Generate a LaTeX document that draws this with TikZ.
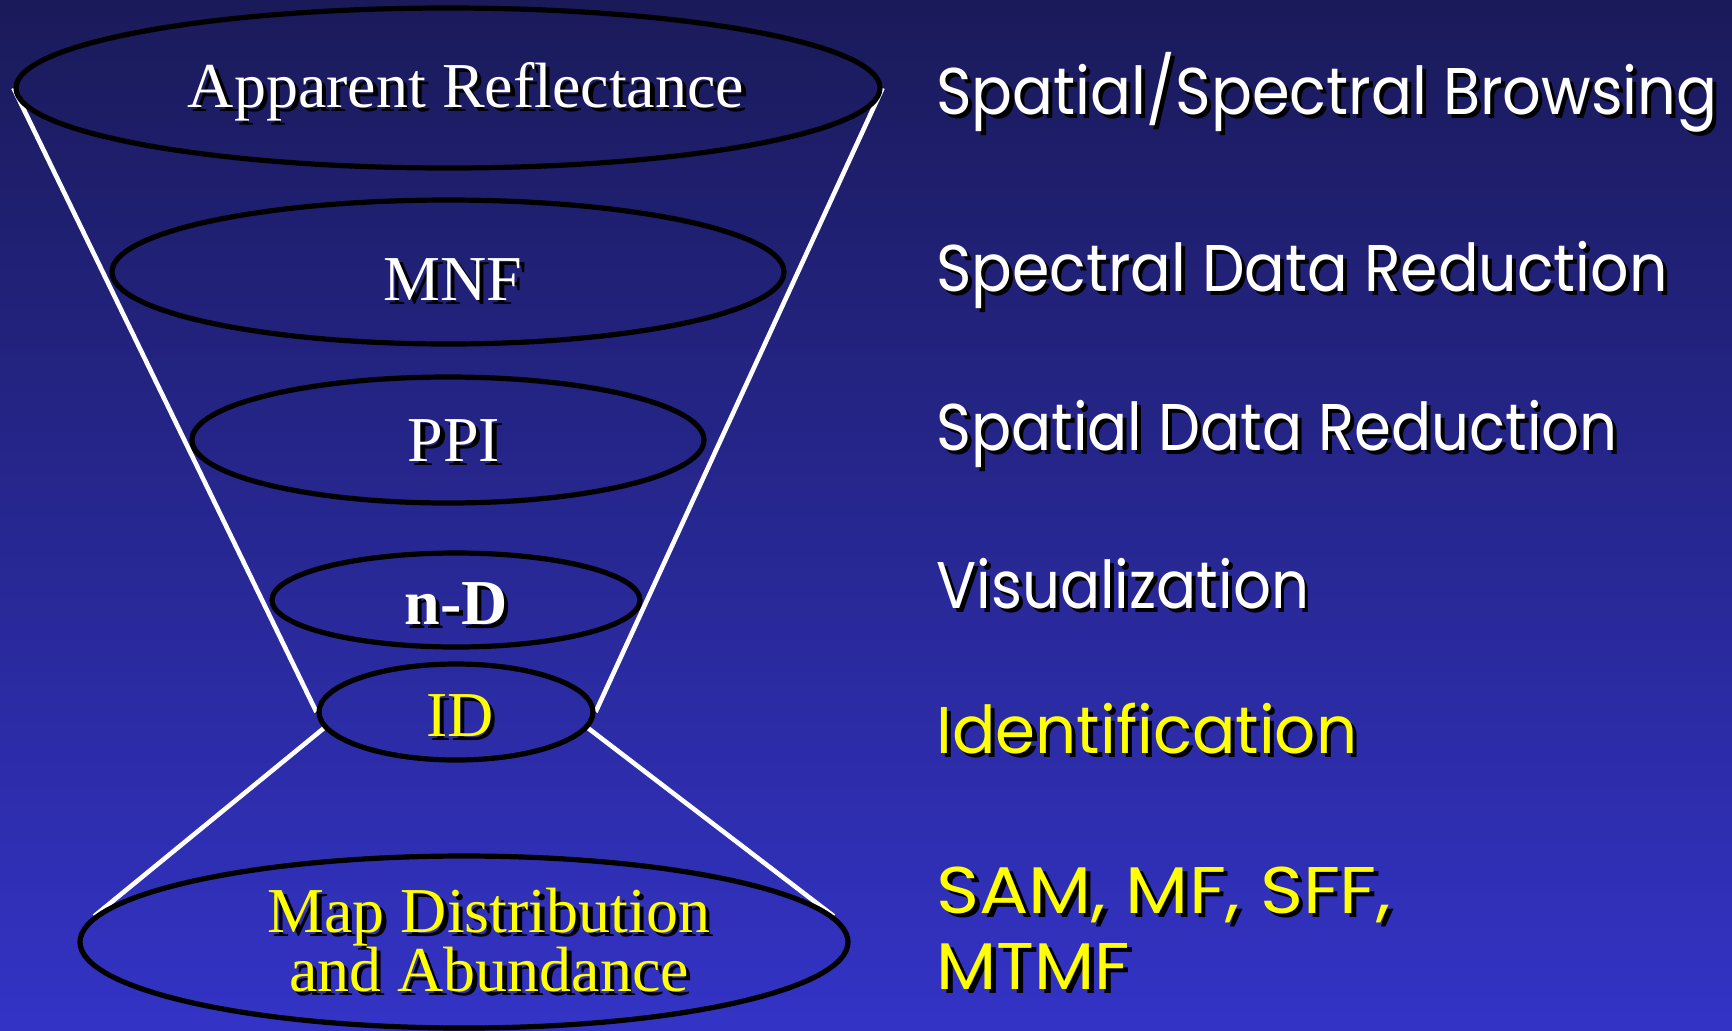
\documentclass[tikz,border=0pt]{standalone}
\usepackage{fontspec}
\usepackage{graphicx}
\setmainfont{Liberation Serif}
\newfontfamily\handfont{Poppins}
\usetikzlibrary{shapes.geometric}
\definecolor{bgtop}{RGB}{26,26,90}
\definecolor{bgbot}{RGB}{51,51,198}
\definecolor{hiyellow}{RGB}{255,255,0}
\newcommand{\shadowed}[1]{\makebox[0pt][l]{\kern2.2pt\raisebox{-2.2pt}{\color{black}#1}}#1}
\newcommand{\tasktext}[2][0.9]{\scalebox{#1}[1]{\shadowed{#2}}}
\pgfdeclarelayer{bg}
\pgfdeclarelayer{lines}
\pgfsetlayers{bg,lines,main}

\begin{document}
\begin{tikzpicture}[x=0.5pt,y=-0.5pt]
\tikzstyle{ring}=[draw=black,line width=2.6pt,ellipse,inner sep=0pt]
\tikzstyle{funnel}=[draw=white,line width=2.3pt]
\tikzstyle{stage}=[anchor=base,inner sep=0pt,text=white,font=\fontsize{32}{29}\selectfont]
\tikzstyle{task}=[anchor=base west,inner sep=0pt,text=white,font=\handfont\fontsize{33}{33}\selectfont]

\useasboundingbox (0,0) rectangle (1732,1030);
\begin{pgfonlayer}{bg}
\shade[top color=bgtop,bottom color=bgbot] (0,0) rectangle (1732,1030);
\end{pgfonlayer}

\node[ring,minimum width=432pt,minimum height=80pt] (refl) at (448,88) {};
\node[ring,minimum width=336pt,minimum height=72pt] (mnf) at (448,272) {};
\node[ring,minimum width=256pt,minimum height=63pt] (ppi) at (448,440) {};
\node[ring,minimum width=184pt,minimum height=47pt] (nd) at (456,600) {};
\node[ring,minimum width=137pt,minimum height=48pt] (id) at (456,712) {};
\node[ring,minimum width=384pt,minimum height=86pt] (map) at (464,942) {};

\begin{pgfonlayer}{lines}
\draw[funnel] (refl.west) -- (id.west);
\draw[funnel] (refl.east) -- (id.east);
\draw[funnel] (id.187) -- (map.176);
\draw[funnel] (id.-7) -- (map.4);
\end{pgfonlayer}

\node[stage] (refltext) at (466,107) {\shadowed{Apparent Reflectance}};
\node[stage] (mnftext) at (453,300) {\shadowed{MNF}};
\node[stage] (ppitext) at (454,461) {\shadowed{PPI}};
\node[stage,font=\fontsize{32}{29}\selectfont\bfseries] (ndtext) at (456,624) {\shadowed{n-D}};
\node[stage,text=hiyellow] (idtext) at (460,736) {\shadowed{ID}};
\node[stage,text=hiyellow,align=center] (maptext) at (489,991) {\shadowed{Map Distribution}\\[-3pt]\shadowed{and Abundance}};

\node[task] (browse) at (936,114) {\tasktext[0.918]{Spatial/Spectral Browsing}};
\node[task] (specred) at (936,291) {\tasktext[0.912]{Spectral Data Reduction}};
\node[task] (spatred) at (936,450) {\tasktext{Spatial Data Reduction}};
\node[task] (visual) at (936,608) {\tasktext{Visualization}};
\node[task,text=hiyellow] (ident) at (936,753) {\tasktext[0.975]{Identification}};
\node[task,text=hiyellow,align=left] (tools) at (936,989) {\tasktext[1.11]{SAM, MF, SFF,}\\[5pt]\tasktext[1.06]{MTMF}};
\end{tikzpicture}
\end{document}
